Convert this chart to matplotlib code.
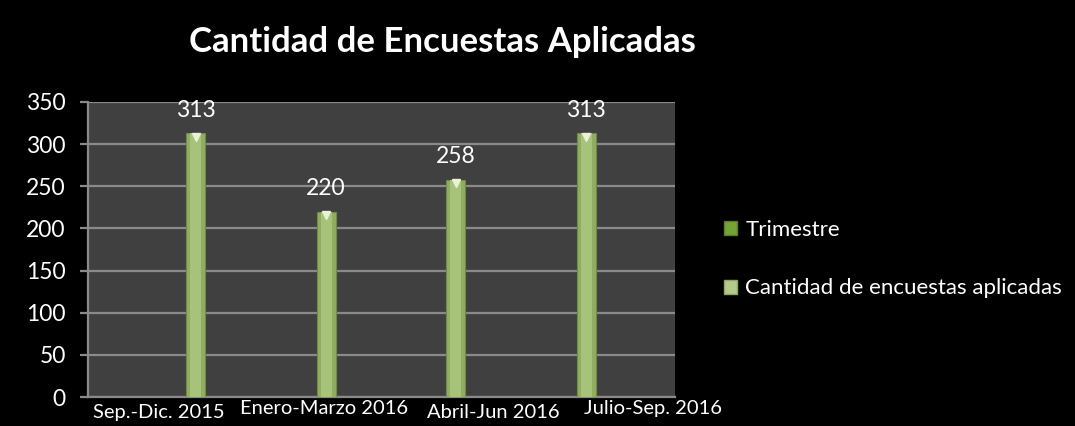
import numpy as np
import matplotlib.pyplot as plt
from matplotlib.patches import Patch

# Data
categories = ['Sep.-Dic. 2015', 'Enero-Marzo 2016', 'Abril-Jun 2016', 'Julio-Sep. 2016']
encuestas = [313, 220, 258, 313]
series_names = ['Trimestre', 'Cantidad de encuestas aplicadas']

# the original is a skewed pseudo-3D chart: bars and labels drift from the slots
bar_pos = np.arange(len(categories)) + np.array([0.235, 0.122, 0.007, -0.105])
label_pos = np.arange(len(categories)) + np.array([-0.02, 0.11, 0.26, 0.35])
label_pad = [5, 2, 5, 2]

plt.rcParams['font.family'] = ['Lato', 'DejaVu Sans']

fig = plt.figure(figsize=(10.75, 4.26), dpi=100, facecolor='black')
ax = fig.add_axes([0.0819, 0.068, 0.546, 0.6926])
ax.set_facecolor('#404040')

# bars with a fake shading
ax.bar(bar_pos, encuestas, width=0.13, color='#90ad62', edgecolor='#6f8a45', linewidth=0.8, zorder=3)
ax.bar(bar_pos, encuestas, width=0.075, color='#a7c37b', linewidth=0, zorder=4)
ax.plot(bar_pos, np.array(encuestas) - 4, linestyle='none', marker='v', markersize=6,
        color='#e9f2d2', zorder=5)

for x, v in zip(bar_pos, encuestas):
    ax.annotate(str(v), (x, v), xytext=(0, 16.5), textcoords='offset points',
                ha='center', va='center', color='white', fontsize=16.5)

ax.set_xlim(-0.5, 3.5)
ax.set_ylim(0, 350)
ax.set_yticks(np.arange(0, 351, 50))
ax.yaxis.grid(True, color='#8a8a8a', linewidth=1.6, zorder=1)
ax.set_axisbelow(True)

ax.set_xticks(label_pos)
ax.set_xticklabels(categories, fontsize=14.5)
for tick, pad in zip(ax.xaxis.get_major_ticks(), label_pad):
    tick.set_pad(pad)
ax.tick_params(axis='x', length=0, colors='white')
ax.tick_params(axis='y', length=6, width=1.6, color='#8a8a8a', labelcolor='white',
               labelsize=16.5, pad=10)

for side in ['top', 'right']:
    ax.spines[side].set_visible(False)
for side in ['left', 'bottom']:
    ax.spines[side].set_color('#8a8a8a')
    ax.spines[side].set_linewidth(1.6)

fig.text(0.412, 1 - 42 / 426, 'Cantidad de Encuestas Aplicadas', ha='center', va='center',
         color='white', fontsize=25, fontweight='bold')

handles = [Patch(facecolor='#76a236', edgecolor='#5a7d28'),
           Patch(facecolor='#b4c98c', edgecolor='#8ea66a')]
fig.legend(handles, series_names, loc='center left', bbox_to_anchor=(0.655, 0.392),
           frameon=False, labelcolor='white', fontsize=16, handlelength=0.6,
           handleheight=0.6, handletextpad=0.35, labelspacing=1.75)

fig.savefig('out.png', dpi=100, facecolor='black')
